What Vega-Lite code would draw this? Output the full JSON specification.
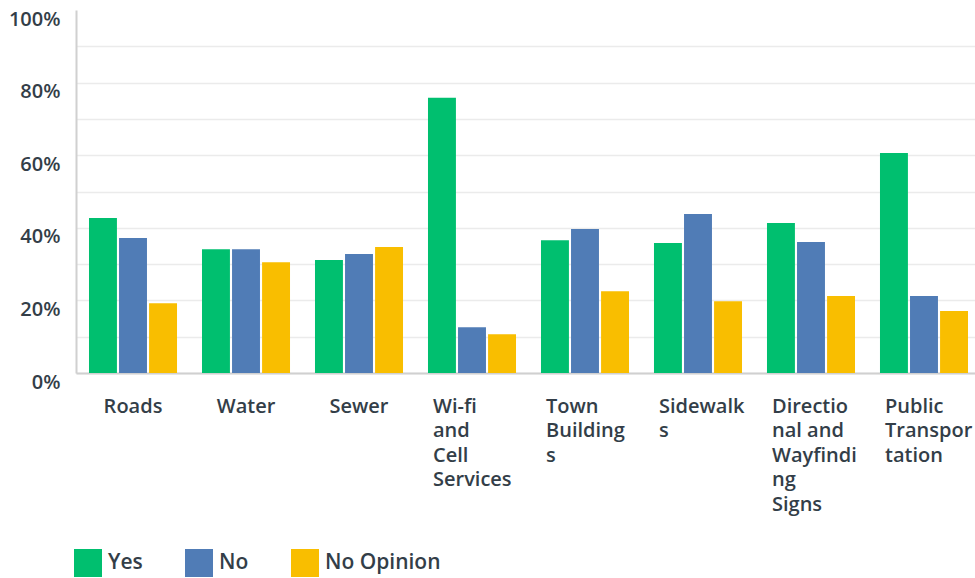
{
  "$schema": "https://vega.github.io/schema/vega-lite/v6.json",
  "width": 905,
  "height": 363,
  "autosize": {"type": "none"},
  "padding": {"left": 76, "top": 10, "right": 0, "bottom": 205},
  "background": "white",
  "config": {
    "view": {"stroke": null},
    "font": "Open Sans"
  },
  "data": {
    "values": [
      {"item": "Roads", "answer": "Yes", "pct": 0.427},
      {"item": "Roads", "answer": "No", "pct": 0.372},
      {"item": "Roads", "answer": "No Opinion", "pct": 0.192},
      {"item": "Water", "answer": "Yes", "pct": 0.341},
      {"item": "Water", "answer": "No", "pct": 0.341},
      {"item": "Water", "answer": "No Opinion", "pct": 0.305},
      {"item": "Sewer", "answer": "Yes", "pct": 0.311},
      {"item": "Sewer", "answer": "No", "pct": 0.328},
      {"item": "Sewer", "answer": "No Opinion", "pct": 0.347},
      {"item": "Wi-fi and Cell Services", "answer": "Yes", "pct": 0.758},
      {"item": "Wi-fi and Cell Services", "answer": "No", "pct": 0.126},
      {"item": "Wi-fi and Cell Services", "answer": "No Opinion", "pct": 0.107},
      {"item": "Town Buildings", "answer": "Yes", "pct": 0.366},
      {"item": "Town Buildings", "answer": "No", "pct": 0.397},
      {"item": "Town Buildings", "answer": "No Opinion", "pct": 0.225},
      {"item": "Sidewalks", "answer": "Yes", "pct": 0.358},
      {"item": "Sidewalks", "answer": "No", "pct": 0.438},
      {"item": "Sidewalks", "answer": "No Opinion", "pct": 0.198},
      {"item": "Directional and Wayfinding Signs", "answer": "Yes", "pct": 0.413},
      {"item": "Directional and Wayfinding Signs", "answer": "No", "pct": 0.361},
      {"item": "Directional and Wayfinding Signs", "answer": "No Opinion", "pct": 0.212},
      {"item": "Public Transportation", "answer": "Yes", "pct": 0.606},
      {"item": "Public Transportation", "answer": "No", "pct": 0.212},
      {"item": "Public Transportation", "answer": "No Opinion", "pct": 0.171}
    ]
  },
  "mark": {"type": "bar"},
  "encoding": {
    "x": {
      "field": "item",
      "type": "nominal",
      "sort": null,
      "title": null,
      "scale": {"paddingInner": 0.221, "paddingOuter": 0.115},
      "axis": {
        "domainColor": "#d0d0d0",
        "domainWidth": 2,
        "ticks": false,
        "labelAngle": 0,
        "labelFont": "Open Sans",
        "labelFontSize": 20,
        "labelFontWeight": 600,
        "labelColor": "#333e48",
        "labelBaseline": "top",
        "labelPadding": 23,
        "labelLineHeight": 24.5,
        "labelLimit": 0,
        "labelAlign": {"condition": {"test": "datum.value == 'Roads' || datum.value == 'Water' || datum.value == 'Sewer'", "value": "center"}, "value": "left"},
        "labelOffset": {"condition": {"test": "datum.value == 'Roads' || datum.value == 'Water' || datum.value == 'Sewer'", "value": 0}, "value": -39},
        "labelExpr": "datum.label == 'Wi-fi and Cell Services' ? ['Wi-fi','and','Cell','Services'] : datum.label == 'Town Buildings' ? ['Town','Building','s'] : datum.label == 'Sidewalks' ? ['Sidewalk','s'] : datum.label == 'Directional and Wayfinding Signs' ? ['Directio','nal and','Wayfindi','ng','Signs'] : datum.label == 'Public Transportation' ? ['Public','Transpor','tation'] : datum.label"
      }
    },
    "xOffset": {
      "field": "answer",
      "type": "nominal",
      "sort": ["Yes", "No", "No Opinion"],
      "scale": {"paddingInner": 0.07}
    },
    "y": {
      "field": "pct",
      "type": "quantitative",
      "title": null,
      "scale": {"domain": [0, 1], "nice": false},
      "axis": {
        "values": [0, 0.1, 0.2, 0.3, 0.4, 0.5, 0.6, 0.7, 0.8, 0.9, 1],
        "format": ".0%",
        "labelExpr": "round(datum.value * 100) % 20 == 0 ? datum.label : ''",
        "domainColor": "#d0d0d0",
        "domainWidth": 2,
        "ticks": false,
        "gridColor": {"condition": {"test": "datum.value >= 1", "value": "transparent"}, "value": "#ebebeb"},
        "gridWidth": 1.5,
        "labelFont": "Open Sans",
        "labelFontSize": 20,
        "labelFontWeight": 600,
        "labelColor": "#333e48",
        "labelPadding": 16,
        "labelOffset": 9,
        "labelFlush": false
      }
    },
    "color": {
      "field": "answer",
      "type": "nominal",
      "sort": ["Yes", "No", "No Opinion"],
      "scale": {"domain": ["Yes", "No", "No Opinion"], "range": ["#00bf6f", "#507cb6", "#f9be00"]},
      "legend": {
        "title": null,
        "orient": "none",
        "direction": "horizontal",
        "legendX": -2,
        "legendY": 539,
        "padding": 0,
        "symbolType": "square",
        "symbolSize": 784,
        "symbolStrokeWidth": 0,
        "symbolOpacity": 1,
        "labelFont": "Open Sans",
        "labelFontSize": 21,
        "labelFontWeight": 600,
        "labelColor": "#333e48",
        "labelOffset": 6,
        "columnPadding": 42
      }
    }
  }
}
